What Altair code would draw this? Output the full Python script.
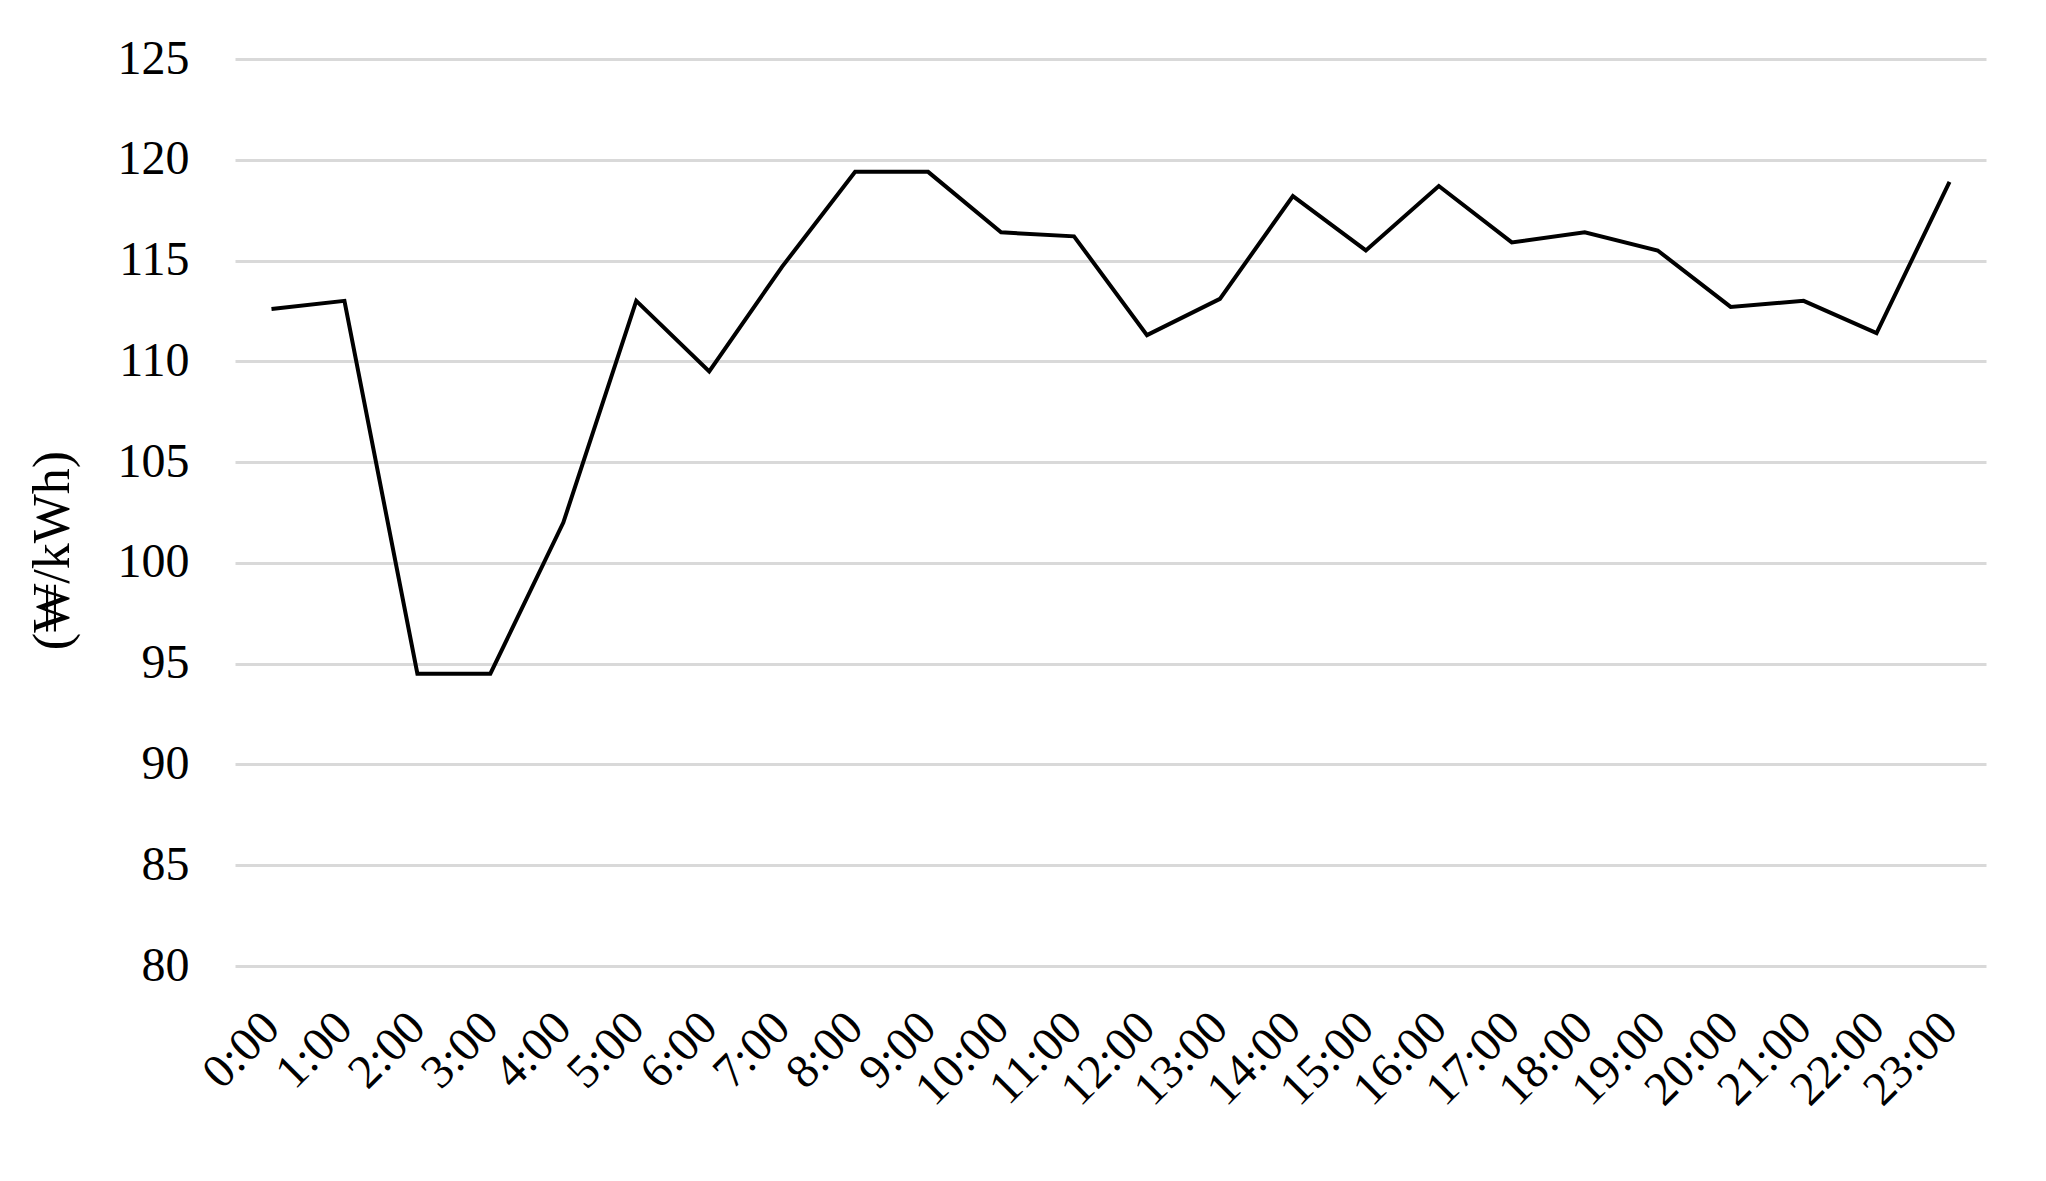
import altair as alt
import pandas as pd

hours = ["0:00", "1:00", "2:00", "3:00", "4:00", "5:00", "6:00", "7:00",
         "8:00", "9:00", "10:00", "11:00", "12:00", "13:00", "14:00", "15:00",
         "16:00", "17:00", "18:00", "19:00", "20:00", "21:00", "22:00", "23:00"]
prices = [112.6, 113.0, 94.5, 94.5, 102.0, 113.0, 109.5, 114.7,
          119.4, 119.4, 116.4, 116.2, 111.3, 113.1, 118.2, 115.5,
          118.7, 115.9, 116.4, 115.5, 112.7, 113.0, 111.4, 118.9]
y_ticks = [80, 85, 90, 95, 100, 105, 110, 115, 120, 125]

df = pd.DataFrame({"hour": hours, "price": prices})

FONT = "Liberation Serif"

chart = alt.Chart(df).mark_line(color="#000000", strokeWidth=4).encode(
    x=alt.X("hour:N", sort=hours,
            scale=alt.Scale(type="point", padding=0.5),
            axis=alt.Axis(title=None, labelAngle=-45, labelAlign="right",
                          labelBaseline="middle", labelPadding=54,
                          labelFontSize=48, labelFont=FONT, labelColor="#000000",
                          domain=False, ticks=False, grid=False)),
    y=alt.Y("price:Q",
            scale=alt.Scale(domain=[80, 125], nice=False, zero=False),
            axis=alt.Axis(title="(₩/kWh)", values=y_ticks,
                          titleFont=FONT, titleFontSize=52, titleFontWeight="normal",
                          titleColor="#000000", titleAngle=-90,
                          titleX=-183, titleY=491, titleAlign="center",
                          titleBaseline="middle",
                          labelFont=FONT, labelFontSize=48, labelColor="#000000",
                          labelPadding=46, domain=False, ticks=False,
                          grid=True, gridColor="#d9d9d9", gridWidth=3)),
).properties(
    width=1751, height=907,
    autosize=alt.AutoSizeParams(type="none"),
    padding={"left": 227, "top": 51, "right": 52, "bottom": 200},
).configure(background="#ffffff").configure_view(stroke=None, strokeWidth=0)

chart.save("out.html", embed_options={"renderer": "svg", "actions": False})
